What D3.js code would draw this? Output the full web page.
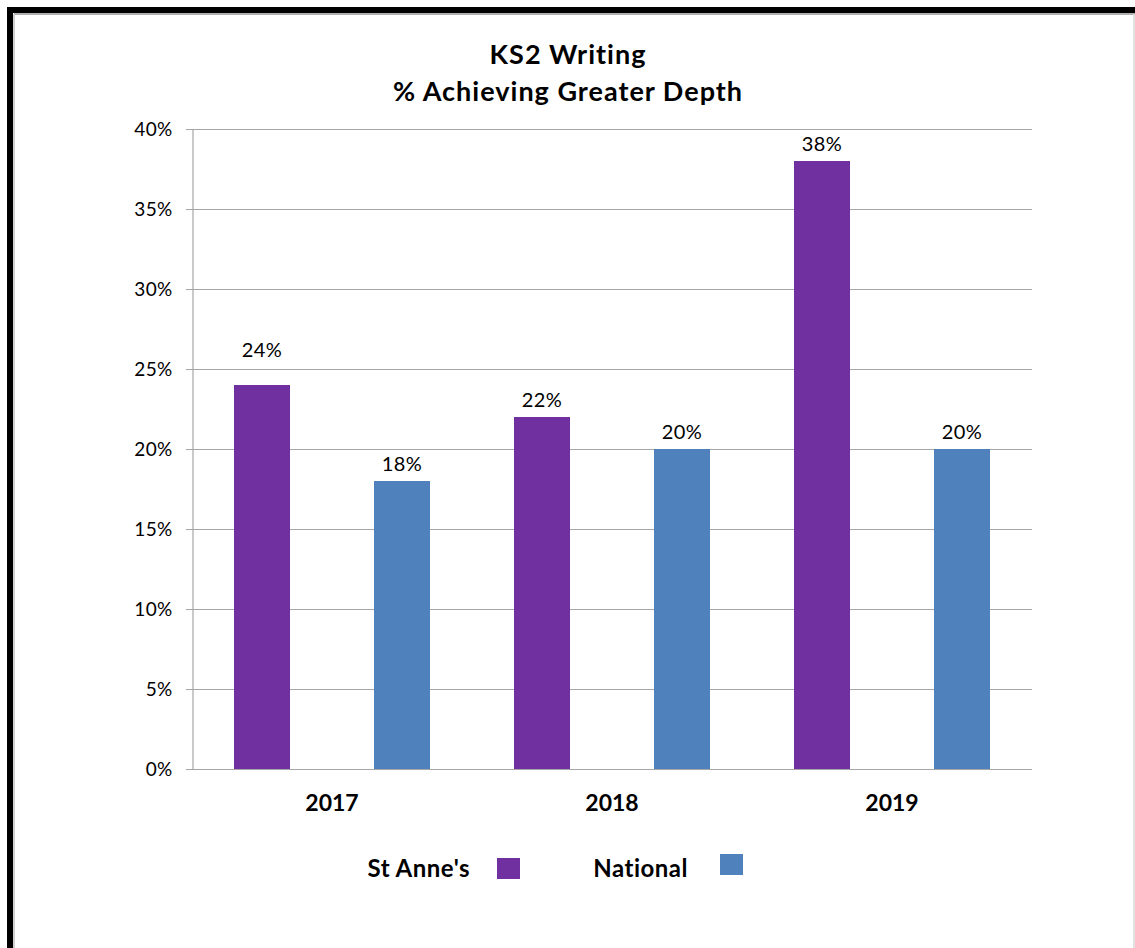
<!DOCTYPE html>
<html>
<head>
<meta charset="utf-8">
<script src="https://cdn.jsdelivr.net/npm/d3@7"></script>
<style>
  body { margin: 0; background: #fff; }
  svg { display: block; font-family: Lato, "Open Sans", sans-serif; }
</style>
</head>
<body>
<div id="chart-container"></div>
<script>
const years = ["2017", "2018", "2019"];
const seriesNames = ["St Anne's", "National"];
const stAnnes = [24, 22, 38];
const national = [18, 20, 20];
const yTicks = [0, 5, 10, 15, 20, 25, 30, 35, 40];
const colors = ["#7030A0", "#4F81BD"];

const w = 1135, h = 948;
const plotLeft = 192, plotRight = 1032, plotTop = 129, plotBottom = 769;

const svg = d3.select("#chart-container").append("svg")
  .attr("width", w).attr("height", h);

// frame with shadow
svg.append("rect").attr("x", 10).attr("y", 10).attr("width", 1140).attr("height", 960)
  .attr("fill", "#fff").attr("stroke", "#000").attr("stroke-width", 6);
svg.append("line").attr("x1", 14).attr("x2", 1135).attr("y1", 14).attr("y2", 14)
  .attr("stroke", "#b0b0b0").attr("stroke-width", 2);
svg.append("line").attr("x1", 14).attr("x2", 14).attr("y1", 14).attr("y2", 948)
  .attr("stroke", "#d0d0d0").attr("stroke-width", 2);
svg.append("line").attr("x1", 1134).attr("x2", 1134).attr("y1", 14).attr("y2", 948)
  .attr("stroke", "#d8d8d8").attr("stroke-width", 1.5);

const x0 = d3.scaleBand().domain(years).range([plotLeft, plotRight]);
const yScale = d3.scaleLinear().domain([0, 40]).range([plotBottom, plotTop]);

// gridlines
svg.append("g").selectAll("line").data(yTicks).enter().append("line")
  .attr("x1", plotLeft - 6).attr("x2", plotRight)
  .attr("y1", d => yScale(d) + 0.5).attr("y2", d => yScale(d) + 0.5)
  .attr("stroke", "#a6a6a6").attr("stroke-width", 1.2);

// y axis
const yAxis = d3.axisLeft(yScale).tickValues(yTicks).tickSize(0).tickPadding(20)
  .tickFormat(d => d + "%");
const yg = svg.append("g").attr("transform", "translate(" + (plotLeft + 0.5) + ",0)").call(yAxis);
yg.select(".domain").attr("stroke", "#a6a6a6").attr("stroke-width", 1.2);
yg.selectAll(".tick text").style("font-size", "19px").style("letter-spacing", "0.3px")
  .attr("fill", "#000").style("font-family", "Lato, sans-serif");

// bars
const series = [stAnnes, national];
const offsets = [[0.15, 0.35], [0.65, 0.85]];
series.forEach(function(vals, s) {
  svg.append("g").selectAll("rect").data(vals).enter().append("rect")
    .attr("x", (d, i) => x0(years[i]) + x0.bandwidth() * offsets[s][0])
    .attr("width", x0.bandwidth() * (offsets[s][1] - offsets[s][0]))
    .attr("y", d => yScale(d))
    .attr("height", d => plotBottom - yScale(d))
    .attr("fill", colors[s]);
  svg.append("g").selectAll("text").data(vals).enter().append("text")
    .attr("x", (d, i) => x0(years[i]) + x0.bandwidth() * (offsets[s][0] + offsets[s][1]) / 2)
    .attr("y", (d, i) => yScale(d) - ((s === 0 && i === 0) ? 28 : 10))
    .attr("text-anchor", "middle")
    .style("font-size", "20px").style("letter-spacing", "0.5px")
    .text(d => d + "%");
});

// category labels
svg.append("g").selectAll("text").data(years).enter().append("text")
  .attr("x", d => x0(d) + x0.bandwidth() / 2)
  .attr("y", 811)
  .attr("text-anchor", "middle")
  .style("font-size", "23px").style("font-weight", "bold")
  .text(d => d);

// title
svg.append("text").attr("x", 568).attr("y", 64).attr("text-anchor", "middle")
  .style("font-size", "27px").style("font-weight", "bold").style("letter-spacing", "1px")
  .text("KS2 Writing");
svg.append("text").attr("x", 568).attr("y", 101).attr("text-anchor", "middle")
  .style("font-size", "27px").style("font-weight", "bold").style("letter-spacing", "1px")
  .text("% Achieving Greater Depth");

// legend
const legendText = [470, 688];
const legendBox = [[497, 858], [720, 854]];
seriesNames.forEach(function(name, s) {
  svg.append("text").attr("x", legendText[s]).attr("y", 877).attr("text-anchor", "end")
    .style("font-size", "24px").style("font-weight", "bold").style("letter-spacing", "0.5px")
    .text(name);
  svg.append("rect").attr("x", legendBox[s][0]).attr("y", legendBox[s][1])
    .attr("width", 23).attr("height", 21).attr("fill", colors[s]);
});
</script>
</body>
</html>
